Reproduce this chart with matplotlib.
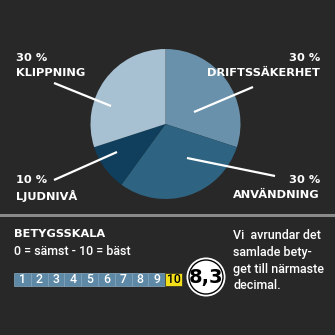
import matplotlib
matplotlib.use("Agg")
import matplotlib.pyplot as plt
from matplotlib.patches import Rectangle, Circle

# data
labels = ["DRIFTSSÄKERHET", "ANVÄNDNING", "LJUDNIVÅ", "KLIPPNING"]
shares = [30, 30, 10, 30]
colors = ["#6a91ab", "#2e6481", "#0f3f5c", "#a7c1d3"]
scale = list(range(1, 11))
score = "8,3"

H = 335
bg = "#282828"
fig = plt.figure(figsize=(3.35, 3.35), dpi=100, facecolor=bg)
ax = fig.add_axes([0, 0, 1, 1])

def Y(y):
    return H - y

# pie
ax.pie(shares, colors=colors, startangle=90, counterclock=False,
       center=(165.5, Y(124)), radius=75, frame=True,
       wedgeprops=dict(linewidth=0))
ax.set_xlim(0, 335)
ax.set_ylim(0, H)
ax.set_aspect("equal")
ax.axis("off")

bold = dict(color="white", fontsize=8.2, fontweight="bold", family="DejaVu Sans")

# label text: (x, y, ha)
lab_pos = {
    "KLIPPNING": (16, 53, "left"),
    "DRIFTSSÄKERHET": (320, 53, "right"),
    "LJUDNIVÅ": (16, 175, "left"),
    "ANVÄNDNING": (320, 175, "right"),
}
for name, pct in zip(labels, shares):
    x, y, ha = lab_pos[name]
    ax.text(x, Y(y), f"{pct} %", ha=ha, va="top", **bold)
    ax.text(x, Y(y + 15), name, ha=ha, va="top", **bold)

# leader lines
leaders = [((54, 83), (111, 106)), ((253, 87), (194, 112)),
           ((54, 180), (117, 152)), ((187, 158), (275, 176))]
for (x0, y0), (x1, y1) in leaders:
    ax.plot([x0, x1], [Y(y0), Y(y1)], color="white", lw=1.6, solid_capstyle="butt")

# separator
ax.add_patch(Rectangle((0, Y(217)), 335, 3, color="#8a8a8a", lw=0))

# rating scale section
ax.text(14, Y(229), "BETYGSSKALA", ha="left", va="top", color="white",
        fontsize=8.2, fontweight="bold")
ax.text(14, Y(245), "0 = sämst - 10 = bäst", ha="left", va="top",
        color="white", fontsize=9, family="Roboto", fontweight="medium")

bx0, bw, by0, bh = 14, 16.8, 273, 13
for i, n in enumerate(scale):
    last = n == scale[-1]
    ax.add_patch(Rectangle((bx0 + i * bw, Y(by0 + bh)), bw, bh,
                           facecolor="#f2df1a" if last else "#5d88a6",
                           edgecolor="#2a2a2a" if last else "#88a9c0", lw=0.5))
    ax.text(bx0 + i * bw + bw / 2, Y(by0 + bh / 2) - 0.3, str(n), ha="center",
            va="center", color="black" if last else "white", fontsize=8.8,
            family="Roboto", fontweight="medium")

ax.add_patch(Circle((206, Y(277)), 19.5, facecolor="white", edgecolor="white", lw=0))
ax.add_patch(Circle((206, Y(277)), 17, facecolor="white", edgecolor="black", lw=1))
ax.text(206, Y(277), score, ha="center", va="center", color="black",
        fontsize=14, fontweight="bold")

ax.text(233, Y(229), "Vi  avrundar det\nsamlade bety-\nget till närmaste\ndecimal.",
        ha="left", va="top", color="white", fontsize=9, family="Roboto",
        fontweight="medium", linespacing=1.38)

fig.savefig("out.png", dpi=100, facecolor=bg)
